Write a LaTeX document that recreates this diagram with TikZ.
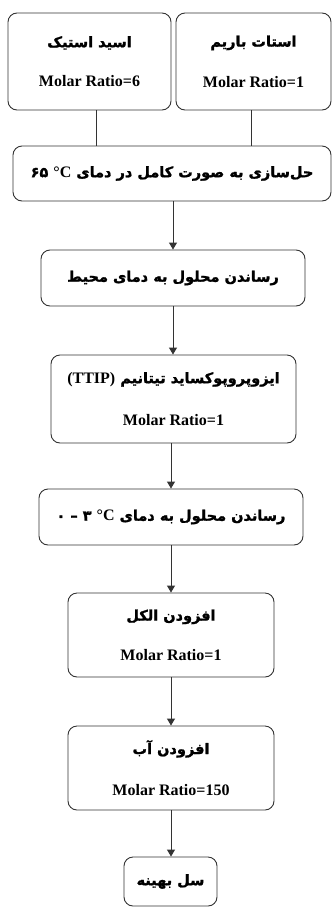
\documentclass[tikz,border=0pt]{standalone}
\usepackage{fontspec}
\setmainfont{Liberation Serif}
\newfontfamily\fafont[Script=Arabic, BoldFeatures={FakeBold=1.5}]{DejaVu Sans}
\TeXXeTstate=1
\usetikzlibrary{arrows.meta}
\newcommand{\FA}[1]{{\fafont\bfseries\fontsize{14.5}{17}\selectfont\beginR #1\endR}}
\newcommand{\LA}[1]{{\rmfamily\bfseries\fontsize{16}{19}\selectfont #1}}
\tikzset{
  box/.style={draw=black!80, line width=0.9pt, rounded corners=9pt, inner sep=0pt, align=center},
  arr/.style={draw=black!80, line width=0.9pt, -{Triangle[width=8pt,length=7pt]}},
  link/.style={draw=black!80, line width=0.9pt}
}
\begin{document}
\begin{tikzpicture}[x=1pt,y=-1pt]
\useasboundingbox (0,0) rectangle (332,908);
\node[box, minimum width=163pt, minimum height=97pt] (b1) at (89.5,61.5)
  {\FA{اسید استیک}\\[25pt]\LA{Molar Ratio=6}};
\node[box, minimum width=155pt, minimum height=97pt] (b2) at (253.5,61.5)
  {\FA{استات باریم}\\[25pt]\LA{Molar Ratio=1}};
\node[box, minimum width=318pt, minimum height=55pt] (b3) at (172,173.5)
  {\FA{حل‌سازی به صورت کامل در دمای \beginL۶۵ \LA{°C}\endL}};
\node[box, minimum width=264pt, minimum height=56pt] (b4) at (173,278)
  {\FA{رساندن محلول به دمای محیط}};
\node[box, minimum width=245pt, minimum height=88pt] (b5) at (173.5,399)
  {\FA{ایزوپروپوکساید تیتانیم \beginL\LA{(TTIP)}\endL}\\[27pt]\LA{Molar Ratio=1}};
\node[box, minimum width=264pt, minimum height=56pt] (b6) at (171,517)
  {\FA{رساندن محلول به دمای \beginL۰ – ۳ \LA{°C}\endL}};
\node[box, minimum width=206pt, minimum height=84pt] (b7) at (171,635)
  {\FA{افزودن الکل}\\[24pt]\LA{Molar Ratio=1}};
\node[box, minimum width=206pt, minimum height=84pt] (b8) at (171,768)
  {\FA{افزودن آب}\\[26pt]\LA{Molar Ratio=150}};
\node[box, minimum width=93pt, minimum height=49pt] (b9) at (170.5,881.5)
  {\FA{سل بهینه}};
\coordinate (c1) at (96,0);
\coordinate (c2) at (251,0);
\coordinate (c3) at (173,0);
\coordinate (c4) at (171,0);
\draw[link] (b1.south -| c1) -- (b3.north -| c1);
\draw[link] (b2.south -| c2) -- (b3.north -| c2);
\draw[arr] (b3.south -| c3) -- (b4.north -| c3);
\draw[arr] (b4.south -| c3) -- (b5.north -| c3);
\draw[arr] (b5.south -| c4) -- (b6.north -| c4);
\draw[arr] (b6.south -| c4) -- (b7.north -| c4);
\draw[arr] (b7.south -| c4) -- (b8.north -| c4);
\draw[arr] (b8.south -| c4) -- (b9.north -| c4);
\end{tikzpicture}
\end{document}
